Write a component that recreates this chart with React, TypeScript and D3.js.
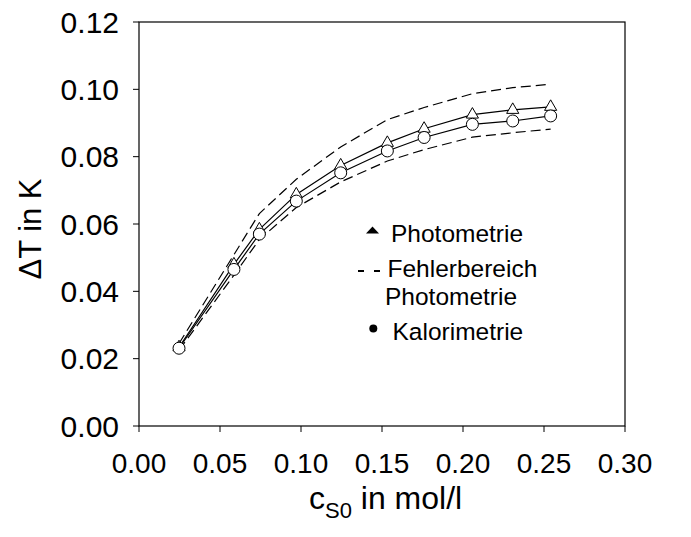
import React from "react";
import * as d3 from "d3";

// Starting concentration c_S0 (mol/l) for each measurement
const concentrations = [0.0247, 0.0586, 0.0743, 0.0971, 0.1245, 0.1533, 0.176, 0.2058, 0.2307, 0.2541];
// Temperature rise ΔT (K) from photometric evaluation
const photometrie = [0.0234, 0.048, 0.0584, 0.0688, 0.0774, 0.0841, 0.0883, 0.0925, 0.0939, 0.0948];
// Upper / lower bounds of the photometric error range
const fehlerOben = [0.0245, 0.0509, 0.0631, 0.0733, 0.0829, 0.091, 0.0946, 0.0987, 0.1005, 0.1015];
const fehlerUnten = [0.0225, 0.0448, 0.0554, 0.0649, 0.0725, 0.0787, 0.0821, 0.0858, 0.0871, 0.0882];
// Temperature rise ΔT (K) from calorimetric measurement
const kalorimetrie = [0.0231, 0.0465, 0.057, 0.0668, 0.0752, 0.0817, 0.0857, 0.0896, 0.0906, 0.0921];

const xTicks = [0, 0.05, 0.1, 0.15, 0.2, 0.25, 0.3];
const yTicks = [0, 0.02, 0.04, 0.06, 0.08, 0.1, 0.12];

const W = 691;
const H = 537;
const FONT = "'Liberation Sans', Arial, Helvetica, sans-serif";

export default function App() {
  const x = d3.scaleLinear().domain([0, 0.3]).range([139, 625]);
  const y = d3.scaleLinear().domain([0, 0.12]).range([426, 22]);

  const line = d3
    .line<[number, number]>()
    .x((d) => x(d[0]))
    .y((d) => y(d[1]));
  const pts = (vals: number[]) => concentrations.map((c, i) => [c, vals[i]] as [number, number]);

  const tri = d3.symbol().type(d3.symbolTriangle).size(64)() as string;
  const [x0, x1] = x.range();
  const [yb, yt] = y.range();

  return (
    <svg
      width={W}
      height={H}
      style={{ position: "absolute", left: 0, top: 0, background: "#fff" }}
      fontFamily={FONT}
    >
      {/* frame */}
      <rect x={x0} y={yt} width={x1 - x0} height={yb - yt} fill="none" stroke="#000" strokeWidth={1.2} />

      {/* y axis ticks and labels */}
      {yTicks.map((t) => (
        <g key={"y" + t}>
          <line x1={x0 - 6} x2={x0} y1={y(t)} y2={y(t)} stroke="#000" strokeWidth={1} />
          <text x={x0 - 20} y={y(t) + 10.5} textAnchor="end" fontSize={30} fill="#000">
            {d3.format(".2f")(t)}
          </text>
        </g>
      ))}

      {/* x axis ticks and labels */}
      {xTicks.map((t) => (
        <g key={"x" + t}>
          <line x1={x(t)} x2={x(t)} y1={yb} y2={yb + 6} stroke="#000" strokeWidth={1} />
          <text x={x(t)} y={473} textAnchor="middle" fontSize={28} fill="#000">
            {d3.format(".2f")(t)}
          </text>
        </g>
      ))}

      {/* axis titles */}
      <text x={309} y={509} fontSize={32} fill="#000">
        c<tspan fontSize={22} dy={9}>S0</tspan>
        <tspan dy={-9}> in mol/l</tspan>
      </text>
      <text transform={`translate(41,229) rotate(-90)`} textAnchor="middle" fontSize={31} fill="#000">
        ΔT in K
      </text>

      {/* error range */}
      <path d={line(pts(fehlerOben)) as string} fill="none" stroke="#000" strokeWidth={1.2} strokeDasharray="10,5" />
      <path d={line(pts(fehlerUnten)) as string} fill="none" stroke="#000" strokeWidth={1.2} strokeDasharray="10,5" />

      {/* measured series */}
      <path d={line(pts(photometrie)) as string} fill="none" stroke="#000" strokeWidth={1.2} />
      <path d={line(pts(kalorimetrie)) as string} fill="none" stroke="#000" strokeWidth={1.2} />

      {pts(photometrie).map((d, i) => (
        <path key={"t" + i} d={tri} transform={`translate(${x(d[0])},${y(d[1])})`} fill="#fff" stroke="#000" strokeWidth={1} />
      ))}
      {pts(kalorimetrie).map((d, i) => (
        <circle key={"c" + i} cx={x(d[0])} cy={y(d[1])} r={6} fill="#fff" stroke="#000" strokeWidth={1} />
      ))}

      {/* legend */}
      <path d="M366,233.5 L372.5,226.5 L379,233.5 Z" fill="#000" />
      <text x={391} y={241.5} fontSize={24.5} fill="#000">Photometrie</text>
      <line x1={358} x2={381} y1={271} y2={271} stroke="#000" strokeWidth={1.8} strokeDasharray="6,10" />
      <text x={387.5} y={277} fontSize={24.5} fill="#000">Fehlerbereich</text>
      <text x={385} y={305} fontSize={24.5} fill="#000">Photometrie</text>
      <circle cx={373.3} cy={328.5} r={4} fill="#000" />
      <text x={392.5} y={340} fontSize={24.5} fill="#000">Kalorimetrie</text>
    </svg>
  );
}
